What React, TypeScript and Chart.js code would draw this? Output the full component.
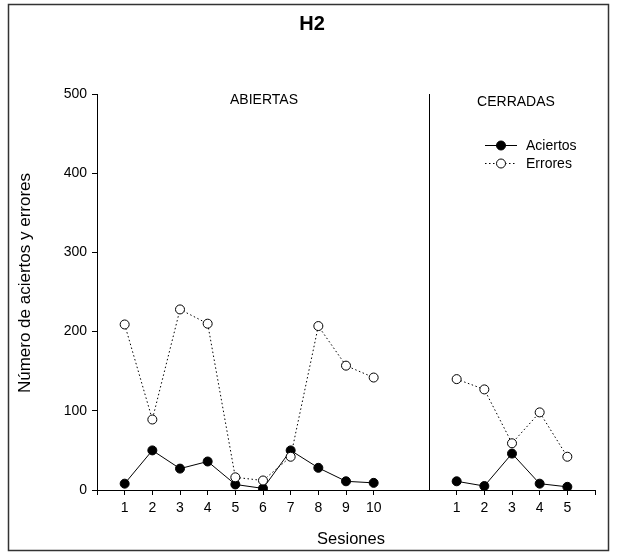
import React, { useEffect, useRef } from "react";
import { Chart, registerables } from "chart.js";

Chart.register(...registerables);

const sesionesAbiertas = [1, 2, 3, 4, 5, 6, 7, 8, 9, 10];
const sesionesCerradas = [1, 2, 3, 4, 5];
const aciertosAbiertas = [8, 50, 27, 36, 7, 2, 50, 28, 11, 9];
const erroresAbiertas = [209, 89, 228, 210, 16, 12, 42, 207, 157, 142];
const aciertosCerradas = [11, 5, 46, 8, 4];
const erroresCerradas = [140, 127, 59, 98, 42];
const seriesNames = ["Aciertos", "Errores"];
const phaseNames = ["ABIERTAS", "CERRADAS"];
const yTicks = [0, 100, 200, 300, 400, 500];
const titleText = "H2";
const xTitle = "Sesiones";
const yTitle = "Número de aciertos y errores";

const OFFSET = sesionesAbiertas.length + 2; // cerradas start after a gap
const FONT = "'Liberation Sans', Arial, Helvetica, sans-serif";

export default function App() {
  const ref = useRef<HTMLCanvasElement | null>(null);

  useEffect(() => {
    if (!ref.current) return;
    const ptA = (xs: number[], ys: number[]) => xs.map((x, i) => ({ x, y: ys[i] }));
    const ptC = (xs: number[], ys: number[]) => xs.map((x, i) => ({ x: x + OFFSET, y: ys[i] }));
    const tickVals = [
      0,
      ...sesionesAbiertas,
      ...sesionesCerradas.map((s) => s + OFFSET),
      OFFSET + sesionesCerradas.length + 1,
    ];
    const xMax = OFFSET + sesionesCerradas.length + 1;

    const solid = (data: any) => ({
      label: seriesNames[0],
      data,
      borderColor: "#000",
      borderWidth: 1,
      backgroundColor: "#000",
      pointBackgroundColor: "#000",
      pointBorderColor: "#000",
      pointRadius: 4.5,
      pointBorderWidth: 1,
      showLine: true,
      order: 1,
    });
    const dotted = (data: any) => ({
      label: seriesNames[1],
      data,
      borderColor: "#000",
      borderWidth: 1,
      borderDash: [1.5, 2.5],
      backgroundColor: "#fff",
      pointBackgroundColor: "#fff",
      pointBorderColor: "#000",
      pointRadius: 4.5,
      pointBorderWidth: 1,
      showLine: true,
      order: 0,
    });

    const decor = {
      id: "decor",
      afterDraw(chart: any) {
        const ctx = chart.ctx;
        const xs = chart.scales.x;
        const ys = chart.scales.y;
        ctx.save();
        ctx.fillStyle = "#000";
        ctx.strokeStyle = "#000";
        // frame
        ctx.lineWidth = 1.5;
        ctx.strokeStyle = "#333";
        ctx.strokeRect(8.5, 4.5, 600, 546);
        ctx.strokeStyle = "#000";
        // title
        ctx.font = `bold 20px ${FONT}`;
        ctx.textAlign = "center";
        ctx.textBaseline = "middle";
        ctx.fillText(titleText, 312, 24);
        // divider
        const xd = Math.round(xs.getPixelForValue(OFFSET)) + 0.5;
        ctx.lineWidth = 1;
        ctx.beginPath();
        ctx.moveTo(xd, ys.getPixelForValue(yTicks[yTicks.length - 1]));
        ctx.lineTo(xd, ys.getPixelForValue(0));
        ctx.stroke();
        // phase labels
        ctx.font = `14px ${FONT}`;
        ctx.fillText(phaseNames[0], 264, 100);
        ctx.fillText(phaseNames[1], 516, 102);
        // axis titles
        ctx.font = `16.5px ${FONT}`;
        ctx.fillText(xTitle, 351, 539);
        ctx.save();
        ctx.translate(25, 283);
        ctx.rotate(-Math.PI / 2);
        ctx.font = `17px ${FONT}`;
        ctx.fillText(yTitle, 0, 0);
        ctx.restore();
        // legend
        const lx0 = 485, lx1 = 517, lm = 501;
        const rows = [145, 163];
        ctx.font = `14px ${FONT}`;
        ctx.textAlign = "left";
        rows.forEach((yy, i) => {
          ctx.beginPath();
          ctx.setLineDash(i === 0 ? [] : [1.5, 2.5]);
          ctx.moveTo(lx0, yy + 0.5);
          ctx.lineTo(lx1, yy + 0.5);
          ctx.stroke();
          ctx.setLineDash([]);
          ctx.beginPath();
          ctx.arc(lm, yy + 0.5, 4.5, 0, Math.PI * 2);
          ctx.fillStyle = i === 0 ? "#000" : "#fff";
          ctx.fill();
          ctx.stroke();
          ctx.fillStyle = "#000";
          ctx.fillText(seriesNames[i], 526, yy + 1);
        });
        ctx.restore();
      },
    };

    const chart = new Chart(ref.current, {
      type: "scatter",
      data: {
        datasets: [
          solid(ptA(sesionesAbiertas, aciertosAbiertas)),
          dotted(ptA(sesionesAbiertas, erroresAbiertas)),
          solid(ptC(sesionesCerradas, aciertosCerradas)),
          dotted(ptC(sesionesCerradas, erroresCerradas)),
        ] as any,
      },
      options: {
        animation: false,
        responsive: false,
        maintainAspectRatio: false,
        layout: { padding: { left: 0, top: 94, right: 22, bottom: 0 } },
        plugins: {
          legend: { display: false },
          tooltip: { enabled: false },
          title: { display: false },
        },
        scales: {
          x: {
            type: "linear",
            min: 0,
            max: xMax,
            afterFit(scale: any) {
              scale.height = 62;
            },
            afterBuildTicks(scale: any) {
              scale.ticks = tickVals.map((v) => ({ value: v }));
            },
            ticks: {
              autoSkip: false,
              maxRotation: 0,
              color: "#000",
              padding: 5,
              font: { family: FONT, size: 14 },
              callback: (v: any) => {
                const n = Number(v);
                if (sesionesAbiertas.includes(n)) return String(n);
                if (sesionesCerradas.includes(n - OFFSET)) return String(n - OFFSET);
                return "";
              },
            },
            grid: {
              drawOnChartArea: false,
              drawTicks: true,
              tickLength: 5,
              color: "#000",
            },
            border: { display: true, color: "#000", width: 1 },
          },
          y: {
            min: 0,
            max: yTicks[yTicks.length - 1],
            afterFit(scale: any) {
              scale.width = 97;
            },
            afterBuildTicks(scale: any) {
              scale.ticks = yTicks.map((v) => ({ value: v }));
            },
            ticks: {
              color: "#000",
              padding: 5,
              font: { family: FONT, size: 14 },
            },
            grid: {
              drawOnChartArea: false,
              drawTicks: true,
              tickLength: 5,
              color: "#000",
            },
            border: { display: true, color: "#000", width: 1 },
          },
        },
      },
      plugins: [decor],
    } as any);
    return () => chart.destroy();
  }, []);

  return (
    <div style={{ position: "absolute", left: 0, top: 0, width: 617, height: 552, background: "#fff" }}>
      <canvas ref={ref} width={617} height={552} style={{ width: 617, height: 552, display: "block" }} />
    </div>
  );
}
